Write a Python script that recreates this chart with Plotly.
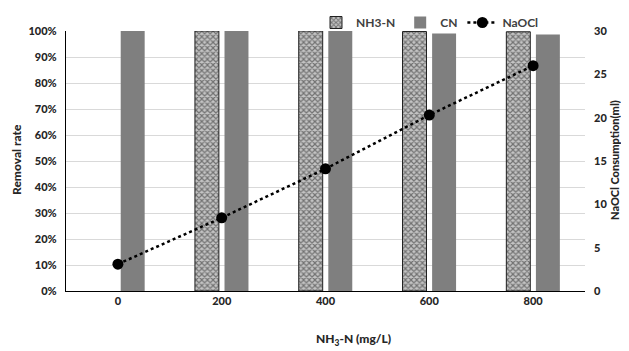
import plotly.graph_objects as go

categories = ["0", "200", "400", "600", "800"]
nh3n_removal = [None, 1.0, 1.0, 0.998, 0.997]
cn_removal = [1.0, 1.0, 1.0, 0.99, 0.987]
naocl_ml = [3.1, 8.45, 14.1, 20.3, 26.0]

FONT = "Lato"
TICKFONT = dict(family=FONT, size=11, color="#262626", weight=900)

# page has an 8px body margin; figure is sized to fill the rest of the window
OFF = 8
W, H = 629 - OFF, 351 - OFF

fig = go.Figure()
fig.add_trace(go.Bar(
    x=categories, y=nh3n_removal, name="NH3-N",
    marker=dict(color="#b0b0b0", line=dict(color="#202020", width=1),
                pattern=dict(shape="x", size=4, solidity=0.5, fgcolor="#202020", bgcolor="#c4c4c4")),
))
fig.add_trace(go.Bar(
    x=categories, y=cn_removal, name="CN",
    marker=dict(color="#7f7f7f", line=dict(width=0)),
))
fig.add_trace(go.Scatter(
    x=categories, y=naocl_ml, name="NaOCl", yaxis="y2",
    mode="lines+markers",
    line=dict(color="black", width=2.5, dash="dot"),
    marker=dict(color="black", size=11),
))

# plot area in window pixels
pl, pr, pt, pb = 66, 585, 31, 291

fig.update_layout(
    width=W, height=H,
    margin=dict(l=pl - OFF, r=629 - pr, t=pt - OFF, b=351 - pb, autoexpand=False),
    paper_bgcolor="white", plot_bgcolor="white",
    font=dict(family=FONT, size=11, color="#262626"),
    barmode="group", bargap=0.43, bargroupgap=0.19,
    showlegend=True,
    legend=dict(orientation="h", x=(316 - OFF) / W, xanchor="left", y=1.0, yanchor="top",
                yref="container", xref="container",
                font=dict(family=FONT, size=12, color="#404040", weight=700),
                itemwidth=30, tracegroupgap=0, bgcolor="rgba(0,0,0,0)"),
    xaxis=dict(type="category", showline=True, linecolor="black", linewidth=1.3,
               ticks="", tickfont=TICKFONT, showgrid=False, automargin=False),
    yaxis=dict(range=[0, 1], dtick=0.1, tickformat=".0%", showline=True, linecolor="black",
               linewidth=1.3, gridcolor="#d9d9d9", gridwidth=1, ticks="",
               tickfont=TICKFONT, zeroline=False, automargin=False, ticklabelstandoff=6),
    yaxis2=dict(range=[0, 30], dtick=5, overlaying="y", side="right", showgrid=False,
                showline=False, zeroline=False, ticks="", tickfont=TICKFONT,
                automargin=False, ticklabelstandoff=8),
)

ann = [
    ("Removal rate", 16, 160, -90, 12),
    ("NaOCl Consumption(ml)", 614, 160, -90, 11),
    ("NH<sub>3</sub>-N (mg/L)", 353, 339, 0, 12),
]
for text, px, py, ang, sz in ann:
    fig.add_annotation(text=text, x=(px - pl) / (pr - pl), y=(pb - py) / (pb - pt),
                       xref="paper", yref="paper", xanchor="center", yanchor="middle",
                       showarrow=False, textangle=ang,
                       font=dict(family=FONT, size=sz, color="#262626", weight=900))

fig.write_html("out.html")
